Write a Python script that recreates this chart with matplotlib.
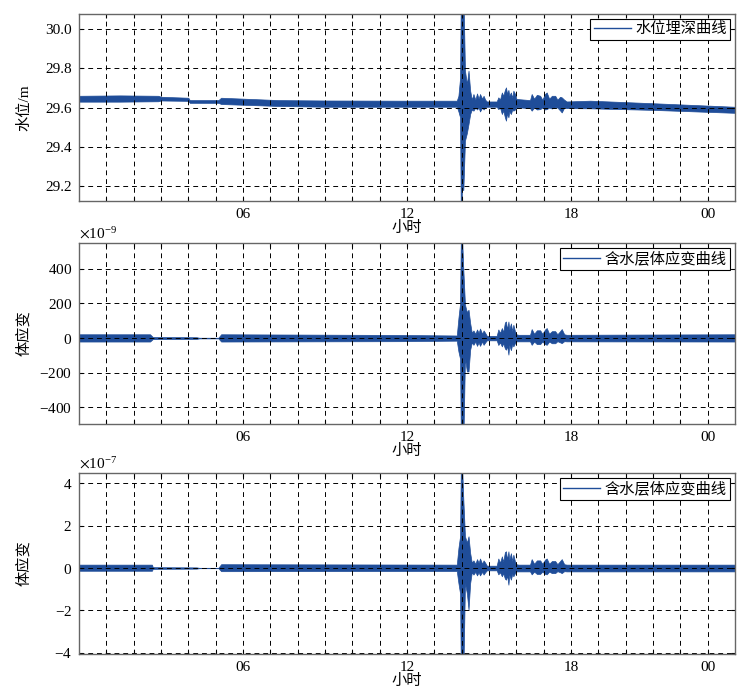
import numpy as np
import matplotlib
matplotlib.use('Agg')
import matplotlib.pyplot as plt
from matplotlib.ticker import FixedLocator, FixedFormatter, ScalarFormatter

plt.rcParams['font.family'] = ['Liberation Serif', 'Noto Sans CJK SC']
plt.rcParams['mathtext.fontset'] = 'stix'
plt.rcParams['font.size'] = 11

# ---- data: time (hours) and signal envelope (low / high) ----
# water level depth (m)
t_wl = [0.0, 1.5, 2.9, 3.0, 4.0, 4.05, 5.1, 5.2, 7.3, 9.0, 11.75, 13.82,
        13.88, 13.94, 13.97, 14.01, 14.06, 14.12, 14.19, 14.25,
        14.31, 14.37, 14.43, 14.50, 14.56, 14.62, 14.67, 14.75, 14.80, 14.86, 14.92, 15.28,
        15.34, 15.40, 15.47, 15.52, 15.58, 15.62, 15.66, 15.71, 15.74, 15.80, 15.85, 15.89, 15.95, 16.0,
        16.07, 16.50,
        16.56, 16.65, 16.75, 16.87, 16.95, 17.05, 17.11, 17.2, 17.3, 17.42, 17.5, 17.6, 17.66, 17.75,
        17.84, 18.7, 21.0, 24.0]
wl_lo = [29.630, 29.630, 29.632, 29.636, 29.634, 29.624, 29.624, 29.618, 29.608, 29.604, 29.604, 29.604,
         29.580, 29.550, 29.000, 29.180, 29.180, 29.431, 29.470, 29.516,
         29.567, 29.590, 29.584, 29.600, 29.590, 29.600, 29.580, 29.600, 29.590, 29.600, 29.604, 29.604,
         29.592, 29.600, 29.567, 29.585, 29.550, 29.533, 29.570, 29.550, 29.580, 29.567, 29.590, 29.584, 29.590, 29.600,
         29.601, 29.597,
         29.584, 29.600, 29.590, 29.592, 29.600, 29.590, 29.592, 29.600, 29.595, 29.601, 29.600, 29.585, 29.575, 29.600,
         29.597, 29.596, 29.588, 29.573]
wl_hi = [29.660, 29.662, 29.660, 29.655, 29.650, 29.638, 29.638, 29.650, 29.638, 29.636, 29.635, 29.635,
         29.660, 29.750, 30.200, 30.200, 30.200, 29.788, 29.720, 29.788,
         29.686, 29.640, 29.669, 29.640, 29.672, 29.645, 29.669, 29.645, 29.660, 29.640, 29.631, 29.631,
         29.652, 29.640, 29.677, 29.660, 29.690, 29.703, 29.670, 29.690, 29.660, 29.677, 29.650, 29.686, 29.670, 29.645,
         29.643, 29.638,
         29.669, 29.645, 29.665, 29.660, 29.640, 29.670, 29.677, 29.645, 29.660, 29.660, 29.640, 29.655, 29.652, 29.640,
         29.631, 29.635, 29.622, 29.604]

# aquifer volumetric strain, middle panel (x1e-9)
t_s1 = [0.0, 2.6, 2.7, 4.3, 4.4, 5.1, 5.2, 11.75, 13.82,
        13.88, 13.94, 13.97, 14.01, 14.06, 14.12, 14.19, 14.25,
        14.31, 14.37, 14.43, 14.50, 14.56, 14.62, 14.67, 14.75, 14.80, 14.86, 14.92, 15.28,
        15.34, 15.40, 15.47, 15.52, 15.58, 15.62, 15.66, 15.71, 15.74, 15.80, 15.85, 15.89, 15.95, 16.0,
        16.07, 16.50,
        16.56, 16.65, 16.75, 16.87, 16.95, 17.05, 17.11, 17.2, 17.3, 17.42, 17.5, 17.6, 17.66, 17.75,
        17.84, 24.0]
s1_lo = [-20, -20, -6, -5, -2, -2, -20, -18, -15,
         -77, -120, -600, -600, -600, -116, -193, -193,
         -67, -25, -39, -20, -45, -25, -45, -20, -39, -25, -13, -13,
         -40, -25, -48, -30, -60, -67, -45, -96, -40, -70, -35, -48, -29, -19,
         -19, -19,
         -39, -20, -35, -35, -20, -35, -39, -20, -30, -30, -18, -25, -29, -18,
         -19, -20]
s1_hi = [22, 22, 6, 5, 2, 2, 22, 18, 15,
         116, 200, 600, 600, 395, 193, 150, 164,
         87, 30, 44, 25, 50, 30, 55, 25, 44, 30, 13, 13,
         50, 30, 58, 35, 90, 96, 50, 96, 50, 85, 40, 77, 39, 22,
         19, 19,
         52, 25, 45, 45, 25, 50, 58, 25, 40, 40, 22, 40, 52, 22,
         19, 22]

# aquifer volumetric strain, bottom panel (x1e-7)
t_s2 = [0.0, 2.67, 2.7, 4.3, 4.4, 5.1, 5.2, 13.82,
        13.88, 13.94, 13.97, 14.01, 14.06, 14.12, 14.19, 14.25,
        14.31, 14.37, 14.43, 14.50, 14.56, 14.62, 14.67, 14.75, 14.80, 14.86, 14.92, 15.28,
        15.34, 15.40, 15.47, 15.52, 15.58, 15.62, 15.66, 15.71, 15.74, 15.80, 15.85, 15.89, 15.95, 16.0,
        16.07, 16.50,
        16.56, 16.65, 16.75, 16.87, 16.95, 17.05, 17.11, 17.2, 17.3, 17.42, 17.5, 17.6, 17.66, 17.75,
        17.84, 24.0]
s2_lo = [-0.13, -0.13, -0.04, -0.03, -0.01, -0.01, -0.15, -0.14,
         -0.71, -1.2, -5.0, -5.0, -5.0, -0.71, -1.2, -1.97,
         -0.71, -0.20, -0.31, -0.18, -0.35, -0.20, -0.35, -0.18, -0.31, -0.20, -0.11, -0.11,
         -0.30, -0.20, -0.39, -0.25, -0.50, -0.55, -0.35, -0.79, -0.33, -0.55, -0.28, -0.39, -0.24, -0.16,
         -0.16, -0.16,
         -0.30, -0.17, -0.28, -0.28, -0.17, -0.28, -0.30, -0.17, -0.24, -0.24, -0.15, -0.20, -0.24, -0.15,
         -0.16, -0.16]
s2_hi = [0.16, 0.16, 0.04, 0.03, 0.01, 0.01, 0.18, 0.16,
         0.94, 1.5, 5.0, 5.0, 3.23, 1.50, 1.2, 1.50,
         0.71, 0.25, 0.36, 0.20, 0.42, 0.25, 0.45, 0.20, 0.36, 0.25, 0.11, 0.11,
         0.45, 0.25, 0.55, 0.30, 0.75, 0.79, 0.40, 0.79, 0.40, 0.70, 0.33, 0.63, 0.31, 0.18,
         0.16, 0.16,
         0.42, 0.20, 0.36, 0.36, 0.20, 0.40, 0.45, 0.20, 0.33, 0.33, 0.18, 0.33, 0.42, 0.18,
         0.16, 0.16]

tick_pos = [6, 12, 18, 23]
tick_lab = ['06', '12', '18', '00']

color = '#1f4d99'

fig = plt.figure(figsize=(7.55, 6.99), dpi=100)
ax1 = fig.add_axes([0.1046, 0.7124, 0.869, 0.2675])
ax2 = fig.add_axes([0.1046, 0.3934, 0.869, 0.259])
ax3 = fig.add_axes([0.1046, 0.0644, 0.869, 0.259])


def style(ax, label):
    ax.set_xlim(0, 24)
    hours = list(range(1, 24))
    labels = [tick_lab[tick_pos.index(h)] if h in tick_pos else '' for h in hours]
    ax.xaxis.set_major_locator(FixedLocator(hours))
    ax.xaxis.set_major_formatter(FixedFormatter(labels))
    ax.grid(True, color='black', linestyle=(0, (5, 4)), linewidth=0.7)
    ax.tick_params(direction='in', length=3, top=True, right=True, labelsize=11, pad=5)
    for s in ax.spines.values():
        s.set_color('#666666')
        s.set_linewidth(1.0)
    ax.set_xlabel('小时', fontsize=11, labelpad=0)
    ax.set_ylabel(label, fontsize=11)
    ax.yaxis.set_label_coords(-0.073, 0.5)


# panel 1
ax1.fill_between(t_wl, wl_lo, wl_hi, color=color, linewidth=0.5)
ax1.plot([], [], color=color, linewidth=1.0, label='水位埋深曲线')
ax1.set_ylim(29.123, 30.077)
ax1.set_yticks([29.2, 29.4, 29.6, 29.8, 30.0])
ax1.set_yticklabels(['29.2', '29.4', '29.6', '29.8', '30.0'])
style(ax1, '水位/m')

# panel 2
ax2.fill_between(t_s1, np.array(s1_lo) * 1e-9, np.array(s1_hi) * 1e-9, color=color, linewidth=0.5)
ax2.plot([], [], color=color, linewidth=1.0, label='含水层体应变曲线')
ax2.set_ylim(-497e-9, 550e-9)
ax2.set_yticks(np.array([-400, -200, 0, 200, 400]) * 1e-9)
style(ax2, '体应变')

# panel 3
ax3.fill_between(t_s2, np.array(s2_lo) * 1e-7, np.array(s2_hi) * 1e-7, color=color, linewidth=0.5)
ax3.plot([], [], color=color, linewidth=1.0, label='含水层体应变曲线')
ax3.set_ylim(-4.06e-7, 4.49e-7)
ax3.set_yticks(np.array([-4, -2, 0, 2, 4]) * 1e-7)
style(ax3, '体应变')

for ax, p in [(ax2, -9), (ax3, -7)]:
    fmt = ScalarFormatter(useMathText=True)
    fmt.set_powerlimits((p, p))
    ax.yaxis.set_major_formatter(fmt)
    ax.yaxis.get_offset_text().set_fontsize(11)

for ax in (ax1, ax2, ax3):
    leg = ax.legend(loc='upper right', fancybox=False, framealpha=1, edgecolor='black',
                    fontsize=11, handlelength=2.4, borderaxespad=0.3, borderpad=0.25,
                    handletextpad=0.3)
    leg.get_frame().set_linewidth(0.8)

fig.savefig('out.png', dpi=100, facecolor='white')
